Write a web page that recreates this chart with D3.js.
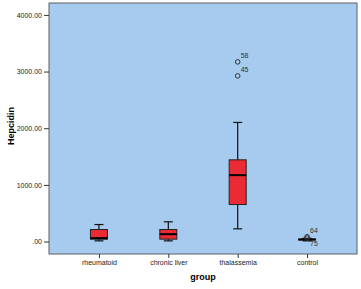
<!DOCTYPE html>
<html>
<head>
<meta charset="utf-8">
<script src="https://cdn.jsdelivr.net/npm/d3@7"></script>
<style>
  body { margin: 0; background: #fff; }
  svg { display: block; font-family: Arial, "Liberation Sans", sans-serif; }
</style>
</head>
<body>
<svg></svg>
<script>
const width = 361;
const height = 289;
const margin = {top: 3, right: 4, bottom: 35, left: 49};

// one entry per group: whisker low, q1, median, q3, whisker high
const groups = ['rheumatoid', 'chronic liver', 'thalassemia', 'control'];
const lows = [12, 12, 224, 12];
const q1s = [42, 42, 653, 28];
const medians = [60, 130, 1172, 36];
const q3s = [212, 212, 1442, 44];
const highs = [300, 348, 2102, 58];

// outliers: group, value, case label
const outlierGroups = ['thalassemia', 'thalassemia', 'control', 'control'];
const outlierValues = [3171, 2924, 85, 62];
const outlierLabels = ['58', '45', '64', '75'];

const yTicks = [0, 1000, 2000, 3000, 4000];

const svg = d3.select('svg').attr('width', width).attr('height', height);

const x = d3.scalePoint()
    .domain(groups)
    .range([margin.left, width - margin.right])
    .padding(0.72);

const y = d3.scaleLinear()
    .domain([-220, 4210])
    .range([height - margin.bottom, margin.top]);

// plot background
svg.append('rect')
    .attr('x', margin.left)
    .attr('y', margin.top)
    .attr('width', width - margin.left - margin.right)
    .attr('height', height - margin.top - margin.bottom)
    .attr('fill', '#a6cbee')
    .attr('stroke', '#5a5f66')
    .attr('stroke-width', 1);

const fmt = function(d) { return d === 0 ? '.00' : d.toFixed(2); };

const yAxis = svg.append('g')
    .attr('transform', `translate(${margin.left}, 0)`)
    .call(d3.axisLeft(y).tickValues(yTicks).tickFormat(fmt).tickSize(5).tickPadding(2));
yAxis.select('.domain').remove();
yAxis.selectAll('line').attr('stroke', '#333');
yAxis.selectAll('text').attr('font-size', 7).attr('fill', '#222');

const xAxis = svg.append('g')
    .attr('transform', `translate(0, ${height - margin.bottom})`)
    .call(d3.axisBottom(x).tickSize(4).tickPadding(2));
xAxis.select('.domain').remove();
xAxis.selectAll('line').attr('stroke', '#333');
xAxis.selectAll('text').attr('font-size', 7).attr('fill', '#222');

svg.append('text')
    .attr('transform', `translate(14, 126) rotate(-90)`)
    .attr('text-anchor', 'middle')
    .attr('font-size', 9)
    .attr('font-weight', 'bold')
    .text('Hepcidin');

svg.append('text')
    .attr('x', 203)
    .attr('y', 280)
    .attr('text-anchor', 'middle')
    .attr('font-size', 9)
    .attr('font-weight', 'bold')
    .text('group');

const boxW = 17;
const capW = 9;

const boxes = svg.append('g').selectAll('g').data(groups)
    .enter().append('g');

boxes.append('line')
    .attr('x1', d => x(d)).attr('x2', d => x(d))
    .attr('y1', (d, i) => y(highs[i])).attr('y2', (d, i) => y(lows[i]))
    .attr('stroke', '#111').attr('stroke-width', 1.2);

boxes.append('line')
    .attr('x1', d => x(d) - capW / 2).attr('x2', d => x(d) + capW / 2)
    .attr('y1', (d, i) => y(highs[i])).attr('y2', (d, i) => y(highs[i]))
    .attr('stroke', '#111').attr('stroke-width', 1.2);

boxes.append('line')
    .attr('x1', d => x(d) - capW / 2).attr('x2', d => x(d) + capW / 2)
    .attr('y1', (d, i) => y(lows[i])).attr('y2', (d, i) => y(lows[i]))
    .attr('stroke', '#111').attr('stroke-width', 1.2);

boxes.append('rect')
    .attr('x', d => x(d) - boxW / 2)
    .attr('width', boxW)
    .attr('y', (d, i) => y(q3s[i]))
    .attr('height', (d, i) => y(q1s[i]) - y(q3s[i]))
    .attr('fill', '#ea2b33')
    .attr('stroke', '#222')
    .attr('stroke-width', 1);

boxes.append('line')
    .attr('x1', d => x(d) - boxW / 2).attr('x2', d => x(d) + boxW / 2)
    .attr('y1', (d, i) => y(medians[i])).attr('y2', (d, i) => y(medians[i]))
    .attr('stroke', '#000').attr('stroke-width', 2);

const outs = svg.append('g').selectAll('g').data(outlierValues)
    .enter().append('g');

outs.append('circle')
    .attr('cx', (d, i) => x(outlierGroups[i]))
    .attr('cy', d => y(d))
    .attr('r', 2.3)
    .attr('fill', 'none')
    .attr('stroke', '#333')
    .attr('stroke-width', 1);

outs.append('text')
    .attr('x', (d, i) => x(outlierGroups[i]) + 3)
    .attr('y', (d, i) => y(d) + (outlierLabels[i] === '75' ? 8 : -4))
    .attr('font-size', 7)
    .attr('fill', '#333')
    .text((d, i) => outlierLabels[i]);
</script>
</body>
</html>
